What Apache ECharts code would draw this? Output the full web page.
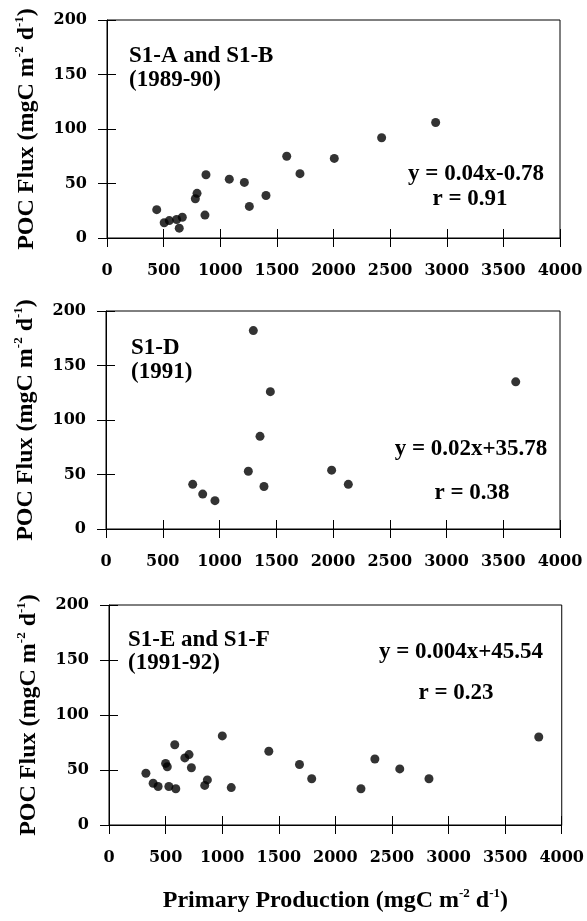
<!DOCTYPE html>
<html>
<head>
<meta charset="utf-8">
<script src="https://cdn.jsdelivr.net/npm/echarts@6/dist/echarts.min.js"></script>
<style>html,body{margin:0;padding:0;background:#fff}#c{width:587px;height:921px}</style>
</head>
<body>
<div id="c"></div>
<script>
// ---- data ----
const panelA = [[439,26],[505,14],[550,16],[615,17],[665,19],[638,9],[780,36],[795,41],[865,21],[874,58],[1080,54],[1213,51],[1257,29],[1404,39],[1587,75],[1704,59],[2007,73],[2425,92],[2902,106]];
const panelD = [[764,41],[852,32],[960,26],[1254,53],[1298,182],[1357,85],[1392,39],[1448,126],[1988,54],[2135,41],[3610,135]];
const panelE = [[326,47],[390,38],[434,35],[500,56],[515,53],[529,35],[581,73],[590,33],[670,61],[707,64],[728,52],[846,36],[869,41],[1001,81],[1080,34],[1412,67],[1683,55],[1791,42],[2226,33],[2349,60],[2569,51],[2827,42],[3797,80]];
const xTicks = [0,500,1000,1500,2000,2500,3000,3500,4000];
const yTicks = [0,50,100,150,200];
const stationLabels = [["S1-A and S1-B","(1989-90)"],["S1-D","(1991)"],["S1-E and S1-F","(1991-92)"]];
const equations = ["y = 0.04x-0.78","y = 0.02x+35.78","y = 0.004x+45.54"];
const rValues = ["r = 0.91","r = 0.38","r = 0.23"];

const panels = [panelA, panelD, panelE];
const grids = [
  {left:107, right:27, top:20, height:218},
  {left:106, right:27, top:311, height:218},
  {left:109, right:24, top:605, height:220}
];
const serif = '"Liberation Serif","Times New Roman",serif';
const tickFont = '"DejaVu Serif",serif';
const fmt = v => String(v);
const titleRich = {
  b:{fontFamily:serif, fontWeight:'bold', fontSize:24, color:'#000', lineHeight:26, verticalAlign:'bottom'},
  s:{fontFamily:serif, fontWeight:'bold', fontSize:13, color:'#000', lineHeight:26, verticalAlign:'top'}
};

const xAxes = [], yAxes = [], series = [];
grids.forEach((g, i) => {
  g.show = true; g.borderColor = '#000'; g.borderWidth = 1; g.backgroundColor = 'transparent';
  xAxes.push({
    type:'value', gridIndex:i, min:xTicks[0], max:xTicks[xTicks.length-1], interval:500,
    axisLine:{show:true, lineStyle:{color:'#000', width:1}},
    axisTick:{show:true, inside:false, length:9, lineStyle:{color:'#000'}},
    splitLine:{show:false},
    axisLabel:{show:true, margin:25, color:'#000', fontFamily:tickFont, fontWeight:'bold', fontSize:16, formatter:fmt},
    name: i===2 ? '{b|Primary Production (mgC m}{s|-2}{b| d}{s|-1}{b|)}' : '',
    nameLocation:'middle', nameGap:62,
    nameTextStyle:{rich:titleRich}
  });
  xAxes.push({
    type:'value', gridIndex:i, min:xTicks[0], max:xTicks[xTicks.length-1], interval:500, position:'bottom', offset:0,
    axisLine:{show:false}, axisTick:{show:true, inside:true, length:9, lineStyle:{color:'#000'}},
    axisLabel:{show:false}, splitLine:{show:false}
  });
  yAxes.push({
    type:'value', gridIndex:i, min:yTicks[0], max:yTicks[yTicks.length-1], interval:50,
    axisLine:{show:true, lineStyle:{color:'#000', width:1}},
    axisTick:{show:true, inside:false, length:9, lineStyle:{color:'#000'}},
    splitLine:{show:false},
    axisLabel:{show:true, margin:20, color:'#000', fontFamily:tickFont, fontWeight:'bold', fontSize:16, formatter:fmt},
    name:'{b|POC Flux (mgC m}{s|-2}{b| d}{s|-1}{b|)}',
    nameLocation:'middle', nameRotate:90, nameGap:68,
    nameTextStyle:{rich:titleRich}
  });
  yAxes.push({
    type:'value', gridIndex:i, min:yTicks[0], max:yTicks[yTicks.length-1], interval:50, position:'left', offset:0,
    axisLine:{show:false}, axisTick:{show:true, inside:true, length:9, lineStyle:{color:'#000'}},
    axisLabel:{show:false}, splitLine:{show:false}
  });
  series.push({
    type:'scatter', xAxisIndex:2*i, yAxisIndex:2*i, data:panels[i],
    symbol:'circle', symbolSize:9, itemStyle:{color:'#000'}, silent:true
  });
});

// text annotation positions (pixels)
const labelPos = [[129,56,80],[131,348,372],[128,640,663]];
const eqPos = [[476,174],[471,449],[461,652]];
const rPos = [[470,199],[472,493],[456,693]];
const graphic = [];
const txt = (t, x, y, align) => ({type:'text', x:x, y:y, silent:true,
  style:{text:t, fill:'#000', font:'bold 23px ' + serif, textAlign:align, textVerticalAlign:'middle'}});
for (let i = 0; i < 3; i++) {
  graphic.push(txt(stationLabels[i][0], labelPos[i][0], labelPos[i][1], 'left'));
  graphic.push(txt(stationLabels[i][1], labelPos[i][0], labelPos[i][2], 'left'));
  graphic.push(txt(equations[i], eqPos[i][0], eqPos[i][1], 'center'));
  graphic.push(txt(rValues[i], rPos[i][0], rPos[i][1], 'center'));
}

const chart = echarts.init(document.getElementById('c'), null, {renderer:'canvas'});
chart.setOption({
  animation:false,
  backgroundColor:'#fff',
  grid:grids, xAxis:xAxes, yAxis:yAxes, series:series, graphic:graphic
});
</script>
</body>
</html>
